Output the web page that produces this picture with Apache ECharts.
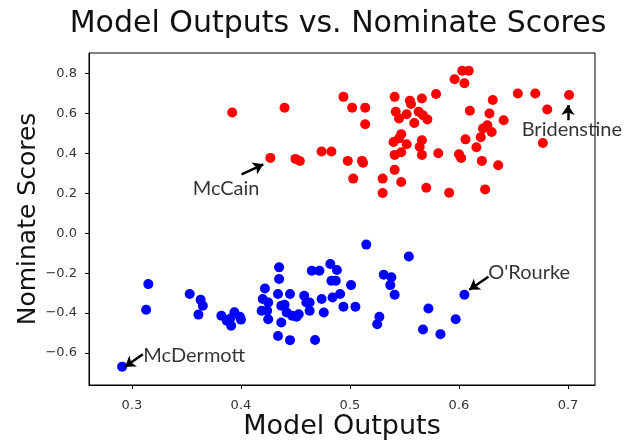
<!DOCTYPE html>
<html><head><meta charset="utf-8">
<script src="https://cdn.jsdelivr.net/npm/echarts@6/dist/echarts.min.js"></script>
<style>html,body{margin:0;padding:0;background:#fff}#c{width:628px;height:443px}</style>
</head><body><div id="c"></div>
<script>
const redX = [0.392,0.440,0.427,0.450,0.454,0.474,0.483,0.494,0.502,0.514,0.514,0.498,0.511,0.512,0.503,0.530,0.530,0.541,0.555,0.556,0.566,0.579,0.542,0.545,0.552,0.563,0.567,0.571,0.559,0.547,0.540,0.545,0.552,0.566,0.564,0.541,0.547,0.566,0.581,0.541,0.547,0.570,0.591,0.600,0.602,0.596,0.603,0.609,0.605,0.610,0.606,0.616,0.621,0.624,0.631,0.628,0.641,0.622,0.626,0.630,0.620,0.636,0.654,0.670,0.701,0.681,0.677];
const redY = [0.606,0.629,0.378,0.373,0.362,0.410,0.410,0.684,0.630,0.630,0.547,0.363,0.363,0.354,0.274,0.274,0.202,0.684,0.665,0.648,0.676,0.698,0.609,0.576,0.597,0.609,0.592,0.571,0.553,0.497,0.458,0.476,0.446,0.466,0.434,0.393,0.406,0.393,0.401,0.318,0.257,0.228,0.203,0.396,0.377,0.772,0.815,0.815,0.752,0.614,0.471,0.431,0.363,0.220,0.668,0.601,0.567,0.525,0.542,0.508,0.482,0.341,0.701,0.701,0.693,0.621,0.453];
const blueX = [0.315,0.313,0.291,0.353,0.363,0.365,0.361,0.382,0.387,0.391,0.394,0.399,0.400,0.390,0.422,0.420,0.425,0.419,0.424,0.425,0.435,0.435,0.434,0.445,0.437,0.440,0.442,0.447,0.437,0.434,0.445,0.458,0.460,0.453,0.451,0.463,0.463,0.465,0.472,0.468,0.474,0.476,0.482,0.488,0.483,0.487,0.484,0.491,0.494,0.501,0.505,0.515,0.531,0.538,0.537,0.541,0.527,0.525,0.554,0.572,0.567,0.583,0.597,0.605];
const blueY = [-0.255,-0.384,-0.669,-0.305,-0.334,-0.364,-0.408,-0.414,-0.439,-0.464,-0.396,-0.419,-0.433,-0.429,-0.277,-0.330,-0.347,-0.389,-0.389,-0.431,-0.171,-0.229,-0.305,-0.305,-0.364,-0.359,-0.397,-0.414,-0.448,-0.515,-0.536,-0.313,-0.347,-0.406,-0.419,-0.347,-0.389,-0.188,-0.188,-0.535,-0.330,-0.397,-0.154,-0.184,-0.238,-0.238,-0.322,-0.305,-0.369,-0.260,-0.369,-0.057,-0.208,-0.221,-0.260,-0.308,-0.419,-0.456,-0.117,-0.377,-0.483,-0.506,-0.431,-0.308];
const xTicks = [0.3,0.4,0.5,0.6,0.7];
const yTicks = [-0.6,-0.4,-0.2,0.0,0.2,0.4,0.6,0.8];
const annotNames = ['McCain','Bridenstine',"O'Rourke",'McDermott'];
const annotTextX = [0.3557,0.6575,0.6269,0.3104];
const annotTextY = [0.226,0.522,-0.196,-0.612];
const arrowFromX = [0.4006,0.700,0.627,0.310];
const arrowFromY = [0.295,0.567,-0.218,-0.607];
const arrowToX = [0.4205,0.700,0.6095,0.2936];
const arrowToY = [0.346,0.643,-0.283,-0.669];

const fmt = v => (v < -1e-9 ? '\u2212' : '') + Math.abs(v).toFixed(1);
const chart = echarts.init(document.getElementById('c'), null, {renderer:'canvas'});
const tickFont = {fontFamily:'DejaVu Sans', fontSize:13, color:'#333'};
chart.setOption({
  animation:false,
  backgroundColor:'#fff',
  title:{text:'Model Outputs vs. Nominate Scores', left:333, top:4, textAlign:'center',
    textStyle:{fontFamily:'DejaVu Sans', fontSize:30, fontWeight:'normal', color:'#111'}},
  grid:{left:89, right:33, top:53, bottom:58, show:true, borderColor:'#000', borderWidth:1,
    containLabel:false, outerBoundsMode:'none'},
  xAxis:{type:'value', min:0.2606, max:0.7248,
    name:'Model Outputs', nameLocation:'middle', nameGap:28, nameMoveOverlap:false,
    nameTextStyle:{fontFamily:'DejaVu Sans', fontSize:27, color:'#111'},
    axisLine:{show:true, onZero:false, lineStyle:{color:'#000', width:1}},
    axisTick:{show:true, length:4, customValues:xTicks, lineStyle:{color:'#000'}},
    axisLabel:Object.assign({customValues:xTicks, margin:14, formatter:fmt}, tickFont),
    splitLine:{show:false}},
  yAxis:{type:'value', min:-0.761, max:0.904,
    name:'Nominate Scores', nameLocation:'middle', nameGap:48, nameMoveOverlap:false,
    nameTextStyle:{fontFamily:'DejaVu Sans', fontSize:25, color:'#111'},
    axisLine:{show:true, onZero:false, lineStyle:{color:'#000', width:1}},
    axisTick:{show:true, length:4, customValues:yTicks, lineStyle:{color:'#000'}},
    axisLabel:Object.assign({customValues:yTicks, margin:12, formatter:fmt}, tickFont),
    splitLine:{show:false}},
  series:[
    {type:'scatter', name:'red', symbolSize:10, itemStyle:{color:'#ff0000', opacity:1},
     data: redX.map((x,i)=>[x, redY[i]])},
    {type:'scatter', name:'blue', symbolSize:10, itemStyle:{color:'#0000ff', opacity:1},
     data: blueX.map((x,i)=>[x, blueY[i]])},
    {type:'scatter', name:'annot', symbolSize:0, silent:true,
     label:{show:true, position:'right', distance:0, formatter:p=>p.data.name,
       fontFamily:'Lato', fontSize:20, color:'#000', verticalAlign:'middle'},
     data: annotNames.map((n,i)=>({name:n, value:[annotTextX[i], annotTextY[i]]})),
     markLine:{silent:true, symbol:['none','arrow'], symbolSize:10, symbolOffset:0, label:{show:false},
       lineStyle:{color:'#000', width:2.5, type:'solid'},
       itemStyle:{color:'#000'},
       data: annotNames.map((n,i)=>[{coord:[arrowFromX[i], arrowFromY[i]]},{coord:[arrowToX[i], arrowToY[i]]}])}}
  ]
});
</script></body></html>
